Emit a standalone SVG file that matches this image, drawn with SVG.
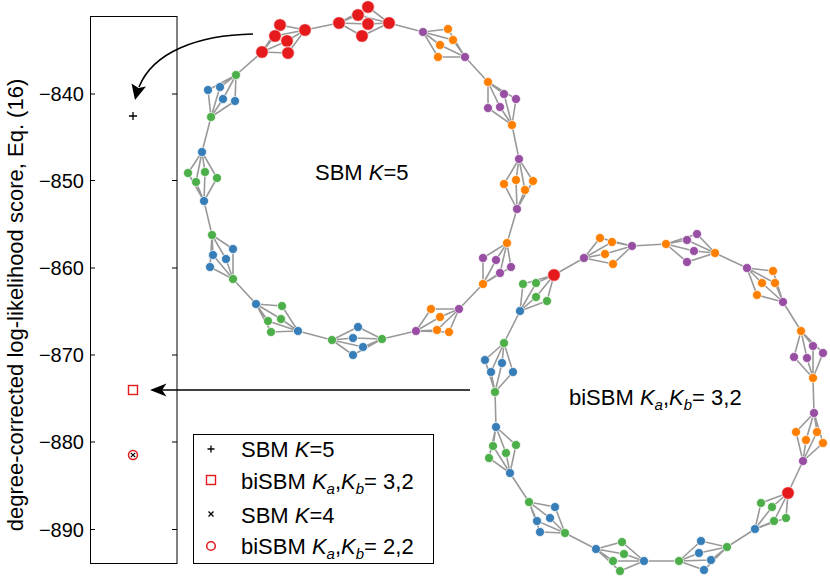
<svg xmlns="http://www.w3.org/2000/svg" width="830" height="578" viewBox="0 0 830 578">
<style>
text{font-family:"Liberation Sans",Arial,sans-serif;fill:#000}
.tk{font-size:20px;text-anchor:end}
.lb{font-size:22px}
.it{font-style:italic}
.e{fill:none;stroke:#999;stroke-width:1.6}
circle.r{fill:#e41a1c}
circle.b{fill:#377eb8}
circle.g{fill:#4daf4a}
circle.p{fill:#984ea3}
circle.o{fill:#ff7f00}
circle.r,circle.b,circle.g,circle.p,circle.o{stroke:#fff;stroke-width:0.7}
.ax{fill:none;stroke:#000;stroke-width:1}
</style>
<rect width="830" height="578" fill="#fff"/>

<g id="axes">
<rect class="ax" x="90.5" y="16.5" width="86.5" height="547"/>
<path class="ax" d="M90.5,94H95M172,94H177M90.5,180.5H95M172,180.5H177M90.5,268H95M172,268H177M90.5,355H95M172,355H177M90.5,442H95M172,442H177M90.5,529.5H95M172,529.5H177"/>
<text class="tk" x="84" y="101">−840</text>
<text class="tk" x="84" y="187.5">−850</text>
<text class="tk" x="84" y="275">−860</text>
<text class="tk" x="84" y="362">−870</text>
<text class="tk" x="84" y="449">−880</text>
<text class="tk" x="84" y="536.5">−890</text>
<text class="lb" transform="translate(23,305) rotate(-90)" text-anchor="middle">degree-corrected log-likelihood score, Eq. (16)</text>
</g>

<g id="data">
<path d="M129,116H137M133,112V120" stroke="#000" stroke-width="1.3"/>
<rect x="128.5" y="385.5" width="9" height="9" fill="none" stroke="#e41a1c" stroke-width="1.4"/>
<circle cx="133" cy="455" r="4.5" fill="none" stroke="#e41a1c" stroke-width="1.5"/>
<path d="M130.8,452.8L135.2,457.2M135.2,452.8L130.8,457.2" stroke="#000" stroke-width="1.2"/>
</g>

<g id="connectors">
<path class="e" d="M262,52L280,25L305,30M262,52L275,36L305,30M262,52L287,41L305,30M262,52L288,53L305,30
M339,23L358,15L389,23M339,23L368,7L389,23M339,23L368,24L389,23M339,23L362,36L389,23
M423,32L448,29L465,57M423,32L440,45L465,57M423,32L453,40L465,57M423,32L438,57L465,57
M488,82L504,94L512,125M488,82L516,99L512,125M488,82L488,108L512,125M488,82L500,107L512,125
M519,159L504,184L517,209M519,159L516,180L517,209M519,159L533,181L517,209M519,159L525,190L517,209
M507,243L483,258L483,284M507,243L496,260L483,284M507,243L511,267L483,284M507,243L500,273L483,284
M459,309L431,309L416,331M459,309L440,317L416,331M459,309L437,330L416,331M459,309L449,332L416,331
M382,339L358,327L332,340M382,339L353,338L332,340M382,339L363,347L332,340M382,339L353,355L332,340
M298,331L282,306L256,304M298,331L281,319L256,304M298,331L268,321L256,304M298,331L271,332L256,304
M233,279L233,249L212,235M233,279L213,255L212,235M233,279L226,259L212,235M233,279L210,267L212,235
M204,201L188,173L202,152M204,201L205,172L202,152M204,201L217,178L202,152M204,201L196,182L202,152
M211,117L208,90L236,75M211,117L220,87L236,75M211,117L223,99L236,75M211,117L235,101L236,75
M305,30L339,23M389,23L423,32M465,57L488,82M512,125L519,159M517,209L507,243M483,284L459,309M416,331L382,339M332,340L298,331M256,304L233,279M212,235L204,201M202,152L211,117M236,75L262,52"/>
<path class="e" d="M554,275L523,284L520,311M554,275L536,283L520,311M554,275L536,297L520,311M554,275L547,301L520,311
M584,258L600,238L632,246M584,258L612,242L632,246M584,258L605,254L632,246M584,258L613,264L632,246
M666,244L687,240L715,253M666,244L697,234L715,253M666,244L694,251L715,253M666,244L687,262L715,253
M747,268L773,271L783,302M747,268L762,283L783,302M747,268L775,283L783,302M747,268L757,295L783,302
M801,331L813,346L813,378M801,331L823,353L813,378M801,331L794,357L813,378M801,331L807,358L813,378
M814,413L796,432L803,461M814,413L817,432L803,461M814,413L806,440L803,461M814,413L823,443L803,461
M788,493L761,503L755,529M788,493L772,507L755,529M788,493L786,518L755,529M788,493L774,521L755,529
M727,547L701,541L679,561M727,547L699,553L679,561M727,547L711,560L679,561M727,547L704,570L679,561
M644,561L622,542L596,549M644,561L624,554L596,549M644,561L613,561L596,549M644,561L620,571L596,549
M565,533L555,507L529,502M565,533L550,518L529,502M565,533L537,521L529,502M565,533L540,532L529,502
M510,473L493,446L496,427M510,473L506,453L496,427M510,473L516,445L496,427M510,473L489,458L496,427
M495,392L485,360L504,343M495,392L502,363L504,343M495,392L491,372L504,343M495,392L513,372L504,343
M554,275L584,258M632,246L666,244M715,253L747,268M783,302L801,331M813,378L814,413M803,461L788,493M755,529L727,547M679,561L644,561M596,549L565,533M529,502L510,473M496,427L495,392M504,343L520,311"/>
<path d="M253,34C198,35 153,52 139,87" fill="none" stroke="#000" stroke-width="1.6"/>
<path d="M135,100L131.5,83.5L138.5,88L146,86.5Z" fill="#000"/>
<path d="M470,390H162" fill="none" stroke="#000" stroke-width="1.3"/>
<path d="M150,390L166.5,383.5L162,390L166.5,396.5Z" fill="#000"/>
</g>

<g id="top-ring">
<g id="t1h1"><circle class="r" cx="262" cy="52" r="6.3"/></g>
<g id="t1h2"><circle class="r" cx="305" cy="30" r="6.3"/></g>
<g id="t1i1"><circle class="r" cx="280" cy="25" r="6.3"/></g>
<g id="t1i2"><circle class="r" cx="275" cy="36" r="6.3"/></g>
<g id="t1i3"><circle class="r" cx="287" cy="41" r="6.3"/></g>
<g id="t1i4"><circle class="r" cx="288" cy="53" r="6.3"/></g>
<g id="t2h1"><circle class="r" cx="339" cy="23" r="6.3"/></g>
<g id="t2h2"><circle class="r" cx="389" cy="23" r="6.3"/></g>
<g id="t2i1"><circle class="r" cx="358" cy="15" r="6.3"/></g>
<g id="t2i2"><circle class="r" cx="368" cy="7" r="6.3"/></g>
<g id="t2i3"><circle class="r" cx="368" cy="24" r="6.3"/></g>
<g id="t2i4"><circle class="r" cx="362" cy="36" r="6.3"/></g>
<g id="t3h1"><circle class="p" cx="423" cy="32" r="4.5"/></g>
<g id="t3h2"><circle class="p" cx="465" cy="57" r="4.5"/></g>
<g id="t3i1"><circle class="o" cx="448" cy="29" r="4.5"/></g>
<g id="t3i2"><circle class="o" cx="440" cy="45" r="4.5"/></g>
<g id="t3i3"><circle class="o" cx="453" cy="40" r="4.5"/></g>
<g id="t3i4"><circle class="o" cx="438" cy="57" r="4.5"/></g>
<g id="t4h1"><circle class="o" cx="488" cy="82" r="4.5"/></g>
<g id="t4h2"><circle class="o" cx="512" cy="125" r="4.5"/></g>
<g id="t4i1"><circle class="p" cx="504" cy="94" r="4.5"/></g>
<g id="t4i2"><circle class="p" cx="516" cy="99" r="4.5"/></g>
<g id="t4i3"><circle class="p" cx="488" cy="108" r="4.5"/></g>
<g id="t4i4"><circle class="p" cx="500" cy="107" r="4.5"/></g>
<g id="t5h1"><circle class="p" cx="519" cy="159" r="4.5"/></g>
<g id="t5h2"><circle class="p" cx="517" cy="209" r="4.5"/></g>
<g id="t5i1"><circle class="o" cx="504" cy="184" r="4.5"/></g>
<g id="t5i2"><circle class="o" cx="516" cy="180" r="4.5"/></g>
<g id="t5i3"><circle class="o" cx="533" cy="181" r="4.5"/></g>
<g id="t5i4"><circle class="o" cx="525" cy="190" r="4.5"/></g>
<g id="t6h1"><circle class="o" cx="507" cy="243" r="4.5"/></g>
<g id="t6h2"><circle class="o" cx="483" cy="284" r="4.5"/></g>
<g id="t6i1"><circle class="p" cx="483" cy="258" r="4.5"/></g>
<g id="t6i2"><circle class="p" cx="496" cy="260" r="4.5"/></g>
<g id="t6i3"><circle class="p" cx="511" cy="267" r="4.5"/></g>
<g id="t6i4"><circle class="p" cx="500" cy="273" r="4.5"/></g>
<g id="t7h1"><circle class="p" cx="459" cy="309" r="4.5"/></g>
<g id="t7h2"><circle class="p" cx="416" cy="331" r="4.5"/></g>
<g id="t7i1"><circle class="o" cx="431" cy="309" r="4.5"/></g>
<g id="t7i2"><circle class="o" cx="440" cy="317" r="4.5"/></g>
<g id="t7i3"><circle class="o" cx="437" cy="330" r="4.5"/></g>
<g id="t7i4"><circle class="o" cx="449" cy="332" r="4.5"/></g>
<g id="t8h1"><circle class="g" cx="382" cy="339" r="4.5"/></g>
<g id="t8h2"><circle class="g" cx="332" cy="340" r="4.5"/></g>
<g id="t8i1"><circle class="b" cx="358" cy="327" r="4.5"/></g>
<g id="t8i2"><circle class="b" cx="353" cy="338" r="4.5"/></g>
<g id="t8i3"><circle class="b" cx="363" cy="347" r="4.5"/></g>
<g id="t8i4"><circle class="b" cx="353" cy="355" r="4.5"/></g>
<g id="t9h1"><circle class="b" cx="298" cy="331" r="4.5"/></g>
<g id="t9h2"><circle class="b" cx="256" cy="304" r="4.5"/></g>
<g id="t9i1"><circle class="g" cx="282" cy="306" r="4.5"/></g>
<g id="t9i2"><circle class="g" cx="281" cy="319" r="4.5"/></g>
<g id="t9i3"><circle class="g" cx="268" cy="321" r="4.5"/></g>
<g id="t9i4"><circle class="g" cx="271" cy="332" r="4.5"/></g>
<g id="t10h1"><circle class="g" cx="233" cy="279" r="4.5"/></g>
<g id="t10h2"><circle class="g" cx="212" cy="235" r="4.5"/></g>
<g id="t10i1"><circle class="b" cx="233" cy="249" r="4.5"/></g>
<g id="t10i2"><circle class="b" cx="213" cy="255" r="4.5"/></g>
<g id="t10i3"><circle class="b" cx="226" cy="259" r="4.5"/></g>
<g id="t10i4"><circle class="b" cx="210" cy="267" r="4.5"/></g>
<g id="t11h1"><circle class="b" cx="204" cy="201" r="4.5"/></g>
<g id="t11h2"><circle class="b" cx="202" cy="152" r="4.5"/></g>
<g id="t11i1"><circle class="g" cx="188" cy="173" r="4.5"/></g>
<g id="t11i2"><circle class="g" cx="205" cy="172" r="4.5"/></g>
<g id="t11i3"><circle class="g" cx="217" cy="178" r="4.5"/></g>
<g id="t11i4"><circle class="g" cx="196" cy="182" r="4.5"/></g>
<g id="t12h1"><circle class="g" cx="211" cy="117" r="4.5"/></g>
<g id="t12h2"><circle class="g" cx="236" cy="75" r="4.5"/></g>
<g id="t12i1"><circle class="b" cx="208" cy="90" r="4.5"/></g>
<g id="t12i2"><circle class="b" cx="220" cy="87" r="4.5"/></g>
<g id="t12i3"><circle class="b" cx="223" cy="99" r="4.5"/></g>
<g id="t12i4"><circle class="b" cx="235" cy="101" r="4.5"/></g>
</g>

<g id="bottom-ring">
<g id="b1h1"><circle class="r" cx="554" cy="275" r="6.3"/></g>
<g id="b1h2"><circle class="b" cx="520" cy="311" r="4.5"/></g>
<g id="b1i1"><circle class="g" cx="523" cy="284" r="4.5"/></g>
<g id="b1i2"><circle class="g" cx="536" cy="283" r="4.5"/></g>
<g id="b1i3"><circle class="g" cx="536" cy="297" r="4.5"/></g>
<g id="b1i4"><circle class="g" cx="547" cy="301" r="4.5"/></g>
<g id="b2h1"><circle class="p" cx="584" cy="258" r="4.5"/></g>
<g id="b2h2"><circle class="p" cx="632" cy="246" r="4.5"/></g>
<g id="b2i1"><circle class="o" cx="600" cy="238" r="4.5"/></g>
<g id="b2i2"><circle class="o" cx="612" cy="242" r="4.5"/></g>
<g id="b2i3"><circle class="o" cx="605" cy="254" r="4.5"/></g>
<g id="b2i4"><circle class="o" cx="613" cy="264" r="4.5"/></g>
<g id="b3h1"><circle class="o" cx="666" cy="244" r="4.5"/></g>
<g id="b3h2"><circle class="o" cx="715" cy="253" r="4.5"/></g>
<g id="b3i1"><circle class="p" cx="687" cy="240" r="4.5"/></g>
<g id="b3i2"><circle class="p" cx="697" cy="234" r="4.5"/></g>
<g id="b3i3"><circle class="p" cx="694" cy="251" r="4.5"/></g>
<g id="b3i4"><circle class="p" cx="687" cy="262" r="4.5"/></g>
<g id="b4h1"><circle class="p" cx="747" cy="268" r="4.5"/></g>
<g id="b4h2"><circle class="p" cx="783" cy="302" r="4.5"/></g>
<g id="b4i1"><circle class="o" cx="773" cy="271" r="4.5"/></g>
<g id="b4i2"><circle class="o" cx="762" cy="283" r="4.5"/></g>
<g id="b4i3"><circle class="o" cx="775" cy="283" r="4.5"/></g>
<g id="b4i4"><circle class="o" cx="757" cy="295" r="4.5"/></g>
<g id="b5h1"><circle class="o" cx="801" cy="331" r="4.5"/></g>
<g id="b5h2"><circle class="o" cx="813" cy="378" r="4.5"/></g>
<g id="b5i1"><circle class="p" cx="813" cy="346" r="4.5"/></g>
<g id="b5i2"><circle class="p" cx="823" cy="353" r="4.5"/></g>
<g id="b5i3"><circle class="p" cx="794" cy="357" r="4.5"/></g>
<g id="b5i4"><circle class="p" cx="807" cy="358" r="4.5"/></g>
<g id="b6h1"><circle class="p" cx="814" cy="413" r="4.5"/></g>
<g id="b6h2"><circle class="p" cx="803" cy="461" r="4.5"/></g>
<g id="b6i1"><circle class="o" cx="796" cy="432" r="4.5"/></g>
<g id="b6i2"><circle class="o" cx="817" cy="432" r="4.5"/></g>
<g id="b6i3"><circle class="o" cx="806" cy="440" r="4.5"/></g>
<g id="b6i4"><circle class="o" cx="823" cy="443" r="4.5"/></g>
<g id="b7h1"><circle class="r" cx="788" cy="493" r="6.3"/></g>
<g id="b7h2"><circle class="b" cx="755" cy="529" r="4.5"/></g>
<g id="b7i1"><circle class="g" cx="761" cy="503" r="4.5"/></g>
<g id="b7i2"><circle class="g" cx="772" cy="507" r="4.5"/></g>
<g id="b7i3"><circle class="g" cx="786" cy="518" r="4.5"/></g>
<g id="b7i4"><circle class="g" cx="774" cy="521" r="4.5"/></g>
<g id="b8h1"><circle class="g" cx="727" cy="547" r="4.5"/></g>
<g id="b8h2"><circle class="g" cx="679" cy="561" r="4.5"/></g>
<g id="b8i1"><circle class="b" cx="701" cy="541" r="4.5"/></g>
<g id="b8i2"><circle class="b" cx="699" cy="553" r="4.5"/></g>
<g id="b8i3"><circle class="b" cx="711" cy="560" r="4.5"/></g>
<g id="b8i4"><circle class="b" cx="704" cy="570" r="4.5"/></g>
<g id="b9h1"><circle class="b" cx="644" cy="561" r="4.5"/></g>
<g id="b9h2"><circle class="b" cx="596" cy="549" r="4.5"/></g>
<g id="b9i1"><circle class="g" cx="622" cy="542" r="4.5"/></g>
<g id="b9i2"><circle class="g" cx="624" cy="554" r="4.5"/></g>
<g id="b9i3"><circle class="g" cx="613" cy="561" r="4.5"/></g>
<g id="b9i4"><circle class="g" cx="620" cy="571" r="4.5"/></g>
<g id="b10h1"><circle class="g" cx="565" cy="533" r="4.5"/></g>
<g id="b10h2"><circle class="g" cx="529" cy="502" r="4.5"/></g>
<g id="b10i1"><circle class="b" cx="555" cy="507" r="4.5"/></g>
<g id="b10i2"><circle class="b" cx="550" cy="518" r="4.5"/></g>
<g id="b10i3"><circle class="b" cx="537" cy="521" r="4.5"/></g>
<g id="b10i4"><circle class="b" cx="540" cy="532" r="4.5"/></g>
<g id="b11h1"><circle class="b" cx="510" cy="473" r="4.5"/></g>
<g id="b11h2"><circle class="b" cx="496" cy="427" r="4.5"/></g>
<g id="b11i1"><circle class="g" cx="493" cy="446" r="4.5"/></g>
<g id="b11i2"><circle class="g" cx="506" cy="453" r="4.5"/></g>
<g id="b11i3"><circle class="g" cx="516" cy="445" r="4.5"/></g>
<g id="b11i4"><circle class="g" cx="489" cy="458" r="4.5"/></g>
<g id="b12h1"><circle class="g" cx="495" cy="392" r="4.5"/></g>
<g id="b12h2"><circle class="g" cx="504" cy="343" r="4.5"/></g>
<g id="b12i1"><circle class="b" cx="485" cy="360" r="4.5"/></g>
<g id="b12i2"><circle class="b" cx="502" cy="363" r="4.5"/></g>
<g id="b12i3"><circle class="b" cx="491" cy="372" r="4.5"/></g>
<g id="b12i4"><circle class="b" cx="513" cy="372" r="4.5"/></g>
</g>

<g id="labels">
<text class="lb" x="315" y="180">SBM <tspan class="it">K</tspan>=5</text>
<text class="lb" x="569" y="405">biSBM <tspan class="it">K</tspan><tspan class="it" font-size="15" dy="5">a</tspan><tspan dy="-5">,</tspan><tspan class="it">K</tspan><tspan class="it" font-size="15" dy="5">b</tspan><tspan dy="-5">= 3,2</tspan></text>
</g>

<g id="legend">
<rect class="ax" x="193.5" y="434.5" width="240" height="129"/>
<path d="M207.5,449H214.5M211,445.5V452.5" stroke="#000" stroke-width="1.3"/>
<text class="lb" x="241" y="457">SBM <tspan class="it">K</tspan>=5</text>
<rect x="206.5" y="475.5" width="9" height="9" fill="none" stroke="#e41a1c" stroke-width="1.4"/>
<text class="lb" x="241" y="489">biSBM <tspan class="it">K</tspan><tspan class="it" font-size="15" dy="5">a</tspan><tspan dy="-5">,</tspan><tspan class="it">K</tspan><tspan class="it" font-size="15" dy="5">b</tspan><tspan dy="-5">= 3,2</tspan></text>
<path d="M208.5,511.5L213.5,516.5M213.5,511.5L208.5,516.5" stroke="#000" stroke-width="1.3"/>
<text class="lb" x="241" y="523">SBM <tspan class="it">K</tspan>=4</text>
<circle cx="211" cy="546" r="4.3" fill="none" stroke="#e41a1c" stroke-width="1.5"/>
<text class="lb" x="241" y="554">biSBM <tspan class="it">K</tspan><tspan class="it" font-size="15" dy="5">a</tspan><tspan dy="-5">,</tspan><tspan class="it">K</tspan><tspan class="it" font-size="15" dy="5">b</tspan><tspan dy="-5">= 2,2</tspan></text>
</g>
</svg>
